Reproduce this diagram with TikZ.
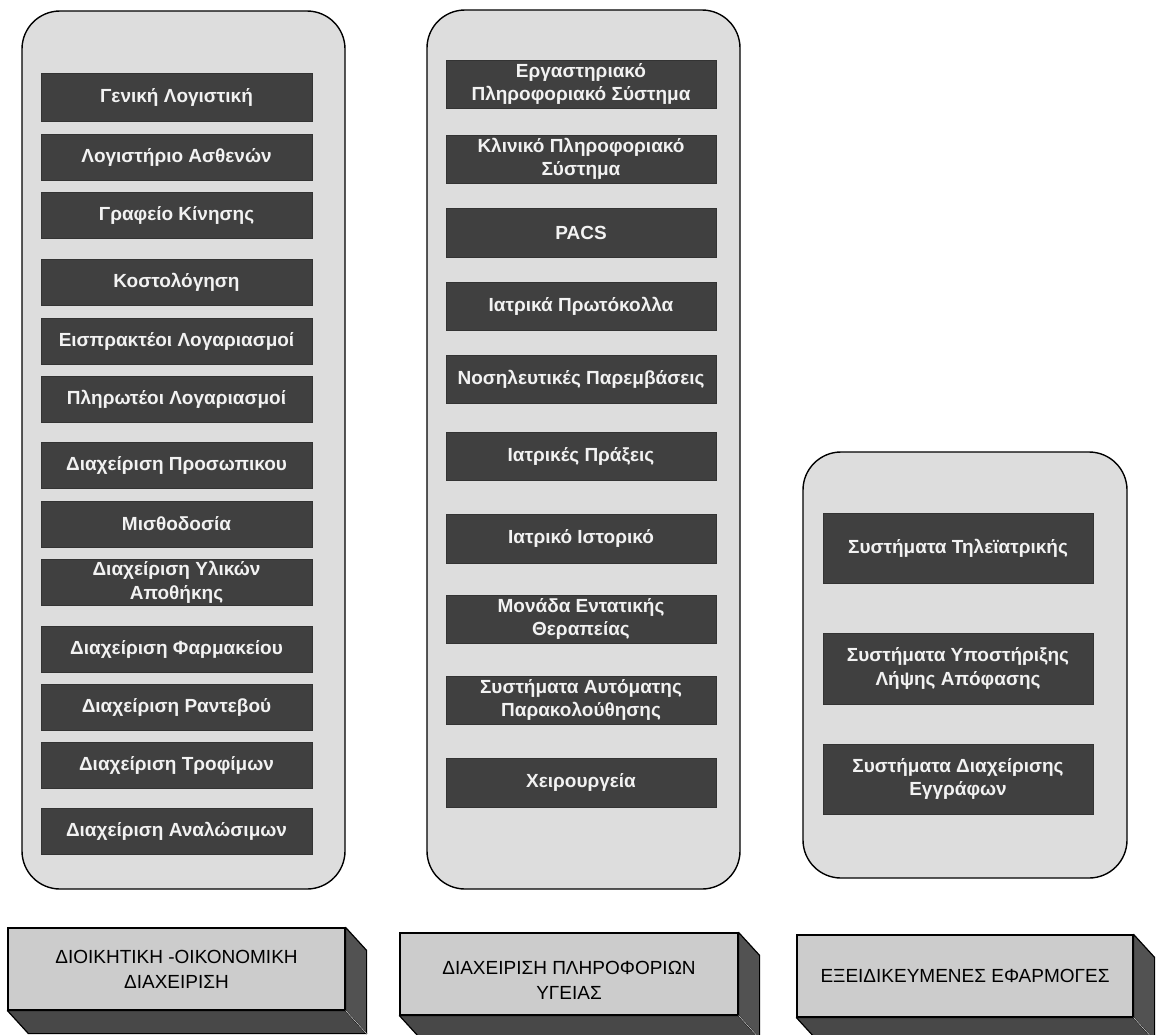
\documentclass[tikz,border=0pt]{standalone}
\usepackage{fontspec}
\setmainfont{Liberation Sans}
\begin{document}
\definecolor{panelgray}{RGB}{221,221,221}
\definecolor{itemgray}{RGB}{64,64,64}
\definecolor{facegray}{RGB}{204,204,204}
\definecolor{sidegray}{RGB}{82,82,82}
\definecolor{bottomgray}{RGB}{72,72,72}
\begin{tikzpicture}[x=1pt,y=-1pt,
  panel/.style={draw=black, line width=1.4pt, fill=panelgray, rounded corners=38pt, inner sep=0pt},
  item/.style={fill=itemgray, draw=itemgray!80!black, line width=0.6pt, text=white!95!black,
    font=\bfseries\fontsize{19}{23.5}\selectfont, align=center, inner sep=0pt,
    minimum height=46pt},
  itemA/.style={item, minimum width=271pt},
  itemB/.style={item, minimum width=270pt},
  itemC/.style={item, minimum width=270pt, minimum height=70pt},
  front/.style={draw=black, line width=1.2pt, fill=facegray, align=center, inner sep=0pt,
    font=\fontsize{19}{25}\selectfont, minimum width=337pt, minimum height=82pt},
  sideface/.style={draw=black, line width=1.2pt, fill=sidegray, line join=round},
  bottomface/.style={draw=black, line width=1.2pt, fill=bottomgray, line join=round}
]
\useasboundingbox (0,0) rectangle (1156,1034);
\clip (0,0) rectangle (1156,1034);
\fill[white] (0,0) rectangle (1156,1034);

% three rounded panels
\node[panel, minimum width=323pt, minimum height=878pt] (panA) at (183.5,450) {};
\node[panel, minimum width=313pt, minimum height=879pt] (panB) at (583.5,449.5) {};
\node[panel, minimum width=324pt, minimum height=426pt] (panC) at (965,665) {};

% administrative / financial modules
\node[itemA, minimum height=48pt] (a1) at (176.5,97) {Γενική Λογιστική};
\node[itemA] (a2) at (176.5,157) {Λογιστήριο Ασθενών};
\node[itemA] (a3) at (176.5,215.5) {Γραφείο Κίνησης};
\node[itemA] (a4) at (176.5,282) {Κοστολόγηση};
\node[itemA] (a5) at (176.5,341) {Εισπρακτέοι Λογαριασμοί};
\node[itemA] (a6) at (176.5,399.5) {Πληρωτέοι Λογαριασμοί};
\node[itemA] (a7) at (176.5,465.5) {Διαχείριση Προσωπικου};
\node[itemA] (a8) at (176.5,524) {Μισθοδοσία};
\node[itemA] (a9) at (176.5,582.5) {Διαχείριση Υλικών\\Αποθήκης};
\node[itemA] (a10) at (176.5,649) {Διαχείριση Φαρμακείου};
\node[itemA] (a11) at (176.5,707) {Διαχείριση Ραντεβού};
\node[itemA] (a12) at (176.5,765.5) {Διαχείριση Τροφίμων};
\node[itemA] (a13) at (176.5,831.5) {Διαχείριση Αναλώσιμων};

% health information modules
\node[itemB, minimum height=48pt] (b1) at (581,84) {Εργαστηριακό\\Πληροφοριακό Σύστημα};
\node[itemB, minimum height=48pt] (b2) at (581,159) {Κλινικό Πληροφοριακό\\Σύστημα};
\node[itemB, minimum height=49pt] (b3) at (581,232.5) {PACS};
\node[itemB, minimum height=48pt] (b4) at (581,306) {Ιατρικά Πρωτόκολλα};
\node[itemB, minimum height=48pt] (b5) at (581,379) {Νοσηλευτικές Παρεμβάσεις};
\node[itemB, minimum height=48pt] (b6) at (581,456) {Ιατρικές Πράξεις};
\node[itemB, minimum height=49pt] (b7) at (581,538.5) {Ιατρικό Ιστορικό};
\node[itemB, minimum height=48pt] (b8) at (581,619) {Μονάδα Εντατικής\\Θεραπείας};
\node[itemB, minimum height=48pt] (b9) at (581,700) {Συστήματα Αυτόματης\\Παρακολούθησης};
\node[itemB, minimum height=49pt] (b10) at (581,782.5) {Χειρουργεία};

% specialised applications
\node[itemC] (c1) at (958,548) {Συστήματα Τηλεϊατρικής};
\node[itemC, minimum height=71pt] (c2) at (958,668.5) {Συστήματα Υποστήριξης\\Λήψης Απόφασης};
\node[itemC] (c3) at (958,779) {Συστήματα Διαχείρισης\\Εγγράφων};

% extruded category labels
\coordinate (f1) at (176.5,969);
\coordinate (f2) at (569,974);
\coordinate (f3) at (965,976);
\node[front] (f1box) at (f1) {};
\node[front, minimum width=338pt] (f2box) at (f2) {};
\node[front, minimum width=336pt] (f3box) at (f3) {};
\foreach \b in {f1box,f2box,f3box}{
  \draw[bottomface] (\b.south west) -- (\b.south east) -- ++(21,23) -- ([shift={(21,23)}]\b.south west) -- cycle;
  \draw[sideface] (\b.north east) -- ++(21,23) -- ([shift={(21,23)}]\b.south east) -- (\b.south east) -- cycle;
  \draw[white!60!gray, line width=0.6pt] (\b.south east) -- ++(21,23);
}
\node[front, draw=none, fill=none] (f1txt) at (f1) {ΔΙΟΙΚΗΤΙΚΗ -ΟΙΚΟΝΟΜΙΚΗ\\ΔΙΑΧΕΙΡΙΣΗ};
\node[front, draw=none, fill=none, minimum width=338pt] (f2txt) at ([yshift=-6]f2) {ΔΙΑΧΕΙΡΙΣΗ ΠΛΗΡΟΦΟΡΙΩΝ\\ΥΓΕΙΑΣ};
\node[front, draw=none, fill=none, minimum width=336pt] (f3txt) at (f3) {ΕΞΕΙΔΙΚΕΥΜΕΝΕΣ ΕΦΑΡΜΟΓΕΣ};
\end{tikzpicture}
\end{document}
